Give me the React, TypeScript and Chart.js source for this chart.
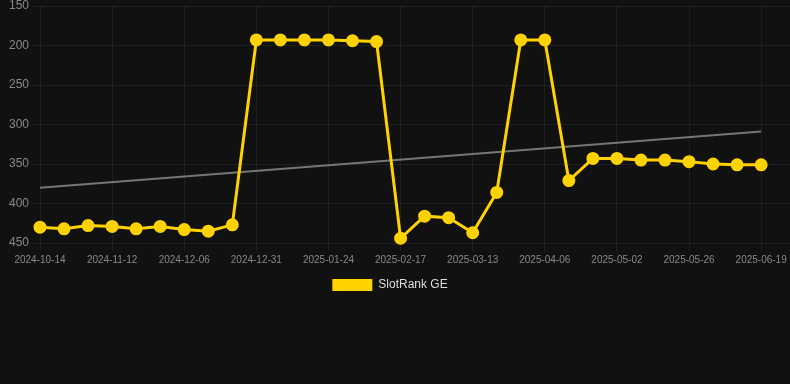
import React, { useEffect, useRef } from "react";
import { Chart, registerables } from "chart.js";

Chart.register(...registerables);

const dateLabels: string[] = [
  "2024-10-14", "2024-10-24", "2024-11-03", "2024-11-12", "2024-11-20", "2024-11-28",
  "2024-12-06", "2024-12-14", "2024-12-22", "2024-12-31", "2025-01-08", "2025-01-16",
  "2025-01-24", "2025-02-01", "2025-02-09", "2025-02-17", "2025-02-25", "2025-03-05",
  "2025-03-13", "2025-03-21", "2025-03-29", "2025-04-06", "2025-04-15", "2025-04-24",
  "2025-05-02", "2025-05-10", "2025-05-18", "2025-05-26", "2025-06-03", "2025-06-11",
  "2025-06-19",
];

const rankValues: number[] = [
  430, 432, 428, 429, 432, 429, 433, 435, 427,
  193, 193, 193, 193, 194, 195,
  444, 416, 418, 437, 386,
  193, 193,
  371, 343, 343, 345, 345, 347, 350, 351, 351,
];

const trendStart = 380;
const trendEnd = 309;

const yTicks = [150, 200, 250, 300, 350, 400, 450];
const xTickEvery = 3;
const xAxisMax = 31.2;

const FONT = "'Liberation Sans', Arial, Helvetica, sans-serif";

export default function App() {
  const ref = useRef<HTMLCanvasElement | null>(null);

  useEffect(() => {
    document.body.style.margin = "0";
    document.body.style.background = "#111111";
    document.body.style.overflow = "hidden";
    const canvas = ref.current;
    if (!canvas) return;
    const lastIdx = dateLabels.length - 1;
    const chart = new Chart(canvas, {
      type: "line",
      data: {
        datasets: [
          {
            label: "SlotRank GE",
            data: rankValues.map((v, i) => ({ x: i, y: v })),
            borderColor: "#FFD200",
            backgroundColor: "#FFD200",
            borderWidth: 3,
            pointRadius: 5,
            pointHoverRadius: 5,
            pointBackgroundColor: "#FFD200",
            pointBorderColor: "#FFD200",
            tension: 0,
            clip: false as any,
          },
          {
            label: "Trend",
            data: [
              { x: 0, y: trendStart },
              { x: lastIdx, y: trendEnd },
            ],
            borderColor: "#767676",
            backgroundColor: "#767676",
            borderWidth: 2,
            pointRadius: 0,
            tension: 0,
            clip: false as any,
          },
        ],
      },
      options: {
        animation: false,
        responsive: false,
        maintainAspectRatio: false,
        layout: { autoPadding: false, padding: 0 } as any,
        plugins: {
          legend: {
            position: "bottom",
            labels: {
              color: "#dddddd",
              boxWidth: 40,
              boxHeight: 12,
              font: { size: 12, family: FONT },
              filter: (item: any) => item.datasetIndex === 0,
              generateLabels: (c: any) =>
                Chart.defaults.plugins.legend.labels
                  .generateLabels(c)
                  .map((l: any) => ({ ...l, lineWidth: 0 })),
            },
          },
          tooltip: { enabled: false },
        },
        scales: {
          x: {
            type: "linear",
            min: 0,
            max: xAxisMax,
            grid: { color: "rgba(255,255,255,0.06)", tickLength: 8 },
            border: { display: false },
            ticks: {
              stepSize: xTickEvery,
              includeBounds: false,
              autoSkip: false,
              maxRotation: 0,
              color: "#888888",
              font: { size: 10, family: FONT },
              callback: (v: any) => dateLabels[v as number] ?? "",
            },
          },
          y: {
            reverse: true,
            min: yTicks[0],
            max: yTicks[yTicks.length - 1],
            grid: { color: "rgba(255,255,255,0.06)", tickLength: 8 },
            border: { display: false },
            afterBuildTicks: (axis: any) => {
              axis.ticks = yTicks.map((v) => ({ value: v }));
            },
            afterFit: (axis: any) => {
              axis.width = 50;
              axis.paddingTop = 6;
              axis.paddingBottom = 6;
            },
            ticks: {
              color: "#888888",
              font: { size: 12, family: FONT },
            },
          },
        },
      },
    });
    return () => chart.destroy();
  }, []);

  return (
    <div style={{ width: 790, height: 384, background: "#111111", overflow: "hidden", position: "relative" }}>
      <canvas
        ref={ref}
        width={800}
        height={301}
        style={{ display: "block", position: "absolute", left: -10, top: 0 }}
      />
    </div>
  );
}
